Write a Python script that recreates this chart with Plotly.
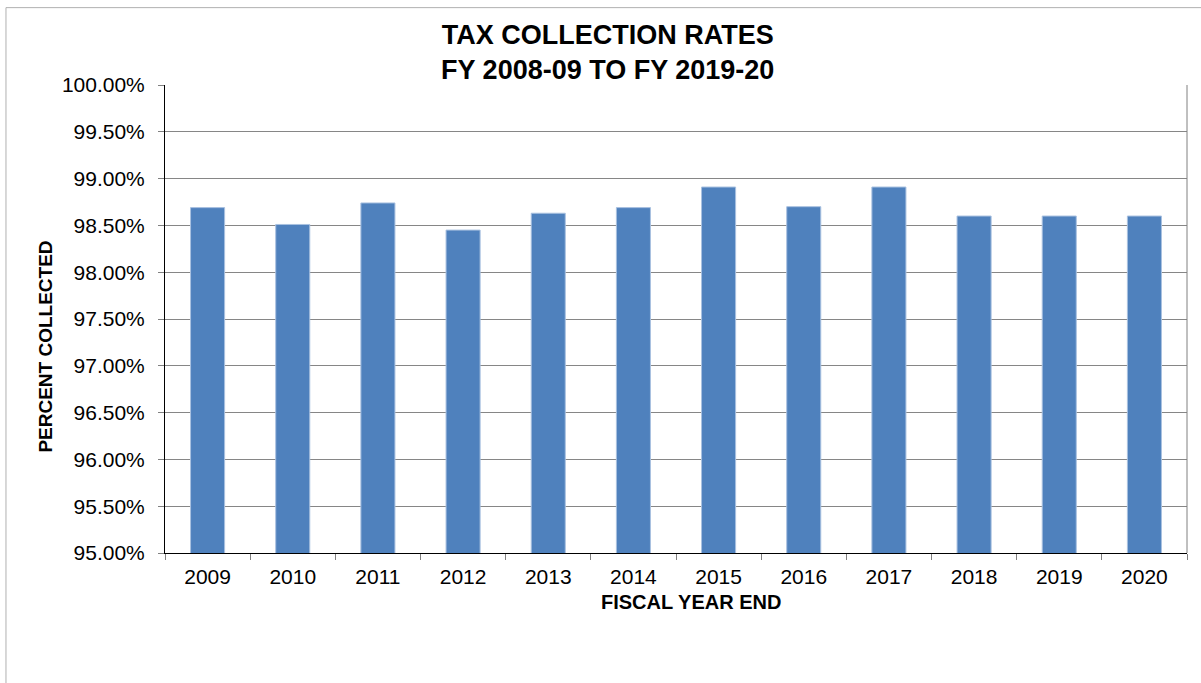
import plotly.graph_objects as go

# Fiscal year end and share of levied taxes collected (%)
years = ["2009", "2010", "2011", "2012", "2013", "2014",
         "2015", "2016", "2017", "2018", "2019", "2020"]
pct_collected = [98.69, 98.51, 98.74, 98.45, 98.63, 98.69,
                 98.91, 98.70, 98.91, 98.60, 98.60, 98.60]

title_lines = ["TAX COLLECTION RATES", "FY 2008-09 TO FY 2019-20"]
x_title = "FISCAL YEAR END"
y_title = "PERCENT COLLECTED"

FONT = "Liberation Sans, Arial, sans-serif"

fig = go.Figure(
    go.Bar(
        x=years,
        y=pct_collected,
        marker=dict(color="#4F81BD", line=dict(color="#A9C1E0", width=1)),
        hoverinfo="x+y",
    )
)

fig.update_layout(
    width=1201,
    height=683,
    margin=dict(l=165, r=14, t=85, b=130),
    paper_bgcolor="white",
    plot_bgcolor="white",
    bargap=0.6,
    showlegend=False,
    font=dict(family=FONT, color="black", size=21),
    title=dict(
        text="<b>" + "<br>".join(title_lines) + "</b>",
        font=dict(family=FONT, size=27, color="black"),
        x=0.506, xref="container", xanchor="center",
        y=0.936, yref="container", yanchor="top",
    ),
)

fig.update_xaxes(
    type="category",
    showline=True, linecolor="black", linewidth=1,
    ticks="outside", ticklen=6, tickcolor="#808080",
    tickson="boundaries",
    ticklabelstandoff=5,
    showgrid=False,
    tickfont=dict(family=FONT, size=21, color="black"),
)

fig.update_yaxes(
    range=[95, 100],
    dtick=0.5,
    tick0=95,
    tickformat=".2f",
    ticksuffix="%",
    showline=True, linecolor="black", linewidth=1,
    ticks="outside", ticklen=6, tickcolor="#808080",
    ticklabelstandoff=9,
    showgrid=True, gridcolor="#868686", gridwidth=1,
    zeroline=False,
    tickfont=dict(family=FONT, size=21, color="black"),
)

# axis titles
fig.add_annotation(
    text="<b>" + x_title + "</b>", xref="paper", yref="paper",
    x=0.5145, y=-0.105, showarrow=False,
    font=dict(family=FONT, size=20, color="black"),
    xanchor="center", yanchor="middle",
)
fig.add_annotation(
    text="<b>" + y_title + "</b>", xref="paper", yref="paper",
    x=-0.1166, y=0.4407, showarrow=False, textangle=-90,
    font=dict(family=FONT, size=19, color="black"),
    xanchor="center", yanchor="middle",
)

# right edge of the plot area
fig.add_shape(type="line", xref="paper", yref="paper",
              x0=1, x1=1, y0=0, y1=1,
              line=dict(color="#808080", width=1))

# chart-area frame
fig.add_shape(type="rect", xref="paper", yref="paper",
              x0=-0.1556, x1=1.2, y0=-0.5, y1=1.1653,
              line=dict(color="#B0B0B0", width=1), layer="below")

fig.write_html("out.html")
